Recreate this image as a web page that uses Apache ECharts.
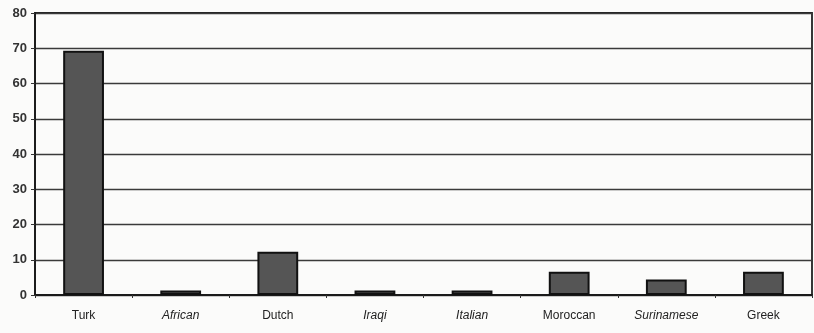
<!DOCTYPE html>
<html>
<head>
<meta charset="utf-8">
<script src="https://cdn.jsdelivr.net/npm/echarts@6/dist/echarts.min.js"></script>
<style>
  html, body { margin: 0; padding: 0; background: #fbfbfa; }
  #chart { width: 814px; height: 333px; }
</style>
</head>
<body>
<div id="chart"></div>
<script>
// Group labels along the x axis
const categories = ['Turk', 'African', 'Dutch', 'Iraqi', 'Italian', 'Moroccan', 'Surinamese', 'Greek'];
// Bar heights (percent)
const values = [69.3, 1.3, 12.3, 1.3, 1.3, 6.6, 4.4, 6.6];
// Labels drawn in italic type
const italicLabels = ['African', 'Iraqi', 'Italian', 'Surinamese'];

const chart = echarts.init(document.getElementById('chart'), null, { renderer: 'canvas' });

chart.setOption({
  backgroundColor: '#fbfbfa',
  animation: false,
  grid: { left: 35, right: 2, top: 13, bottom: 38, show: true, borderColor: '#222', borderWidth: 1.8, backgroundColor: 'transparent' },
  xAxis: {
    type: 'category',
    data: categories,
    axisLine: { show: true, lineStyle: { color: '#1a1a1a', width: 2 } },
    axisTick: { show: true, interval: 0, alignWithLabel: false, length: 3, lineStyle: { color: '#333' } },
    axisLabel: {
      interval: 0,
      hideOverlap: false,
      margin: 15,
      fontFamily: 'Liberation Sans, Arial, sans-serif',
      fontSize: 12,
      color: '#222',
      formatter: function (v) {
        return italicLabels.indexOf(v) >= 0 ? '{i|' + v + '}' : v;
      },
      rich: { i: { fontStyle: 'italic', fontFamily: 'Liberation Sans, Arial, sans-serif', fontSize: 12, color: '#222' } }
    }
  },
  yAxis: {
    type: 'value',
    min: 0,
    max: 80,
    interval: 10,
    axisLine: { show: true, lineStyle: { color: '#1a1a1a', width: 1.8 } },
    axisTick: { show: true, length: 4, lineStyle: { color: '#333' } },
    splitLine: { show: true, lineStyle: { color: '#3a3a3a', width: 1.4 } },
    axisLabel: {
      margin: 8,
      fontFamily: 'Liberation Sans, Arial, sans-serif',
      fontWeight: 'bold',
      fontSize: 13,
      color: '#333'
    }
  },
  series: [{
    type: 'bar',
    data: values,
    barWidth: '42%',
    itemStyle: { color: '#555555', borderColor: '#111', borderWidth: 2 }
  }]
});
</script>
</body>
</html>
